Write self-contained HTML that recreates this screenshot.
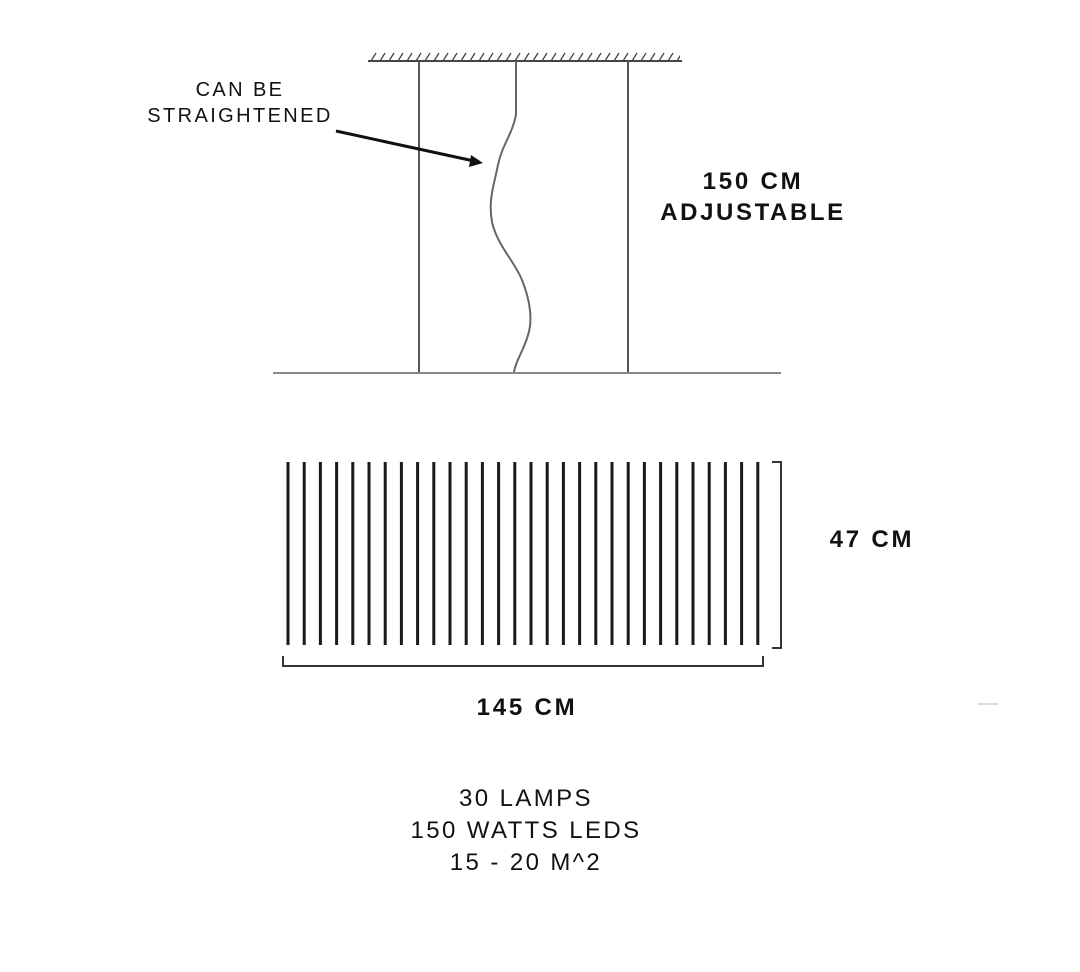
<!DOCTYPE html>
<html><head><meta charset="utf-8"><style>
html,body{margin:0;padding:0;background:#fff;}
svg{display:block;}
text{font-family:"Liberation Sans",sans-serif;fill:#111;}
</style></head><body>
<svg width="1080" height="972" viewBox="0 0 1080 972" xmlns="http://www.w3.org/2000/svg">
<defs>
<pattern id="h" x="370" y="52" width="9" height="9" patternUnits="userSpaceOnUse">
<line x1="1" y1="9" x2="6" y2="1" stroke="#444" stroke-width="1.3"/>
</pattern>
</defs>
<rect x="370" y="52" width="310" height="8" fill="url(#h)"/>
<line x1="368" y1="61" x2="682" y2="61" stroke="#444" stroke-width="2"/>
<line x1="419" y1="61" x2="419" y2="373" stroke="#555" stroke-width="2"/>
<line x1="628" y1="61" x2="628" y2="373" stroke="#555" stroke-width="2"/>
<path d="M516 61 L516 115 C512 135 502 145 498 165 C494 185 488 200 492 222 C497 245 515 262 522 280 C530 300 533 320 528 335 C524 350 516 360 514 372" fill="none" stroke="#666" stroke-width="2"/>
<line x1="273" y1="373" x2="781" y2="373" stroke="#888" stroke-width="2"/>
<line x1="336" y1="131" x2="474" y2="161" stroke="#111" stroke-width="3"/>
<polygon points="483,163 471,155 469,167" fill="#111"/>
<text x="240" y="96" font-size="20" text-anchor="middle" letter-spacing="2.4">CAN BE</text>
<text x="240" y="122" font-size="20" text-anchor="middle" letter-spacing="2.4">STRAIGHTENED</text>
<text x="753" y="189" font-size="24" font-weight="bold" text-anchor="middle" letter-spacing="2.8">150 CM</text>
<text x="753" y="220" font-size="24" font-weight="bold" text-anchor="middle" letter-spacing="2.6">ADJUSTABLE</text>
<g stroke="#1a1a1a" stroke-width="3">
<line x1="288" y1="462" x2="288" y2="645"/><line x1="304.2" y1="462" x2="304.2" y2="645"/><line x1="320.4" y1="462" x2="320.4" y2="645"/><line x1="336.6" y1="462" x2="336.6" y2="645"/><line x1="352.8" y1="462" x2="352.8" y2="645"/><line x1="369" y1="462" x2="369" y2="645"/><line x1="385.2" y1="462" x2="385.2" y2="645"/><line x1="401.4" y1="462" x2="401.4" y2="645"/><line x1="417.6" y1="462" x2="417.6" y2="645"/><line x1="433.8" y1="462" x2="433.8" y2="645"/><line x1="450" y1="462" x2="450" y2="645"/><line x1="466.2" y1="462" x2="466.2" y2="645"/><line x1="482.4" y1="462" x2="482.4" y2="645"/><line x1="498.6" y1="462" x2="498.6" y2="645"/><line x1="514.8" y1="462" x2="514.8" y2="645"/><line x1="531" y1="462" x2="531" y2="645"/><line x1="547.2" y1="462" x2="547.2" y2="645"/><line x1="563.4" y1="462" x2="563.4" y2="645"/><line x1="579.6" y1="462" x2="579.6" y2="645"/><line x1="595.8" y1="462" x2="595.8" y2="645"/><line x1="612" y1="462" x2="612" y2="645"/><line x1="628.2" y1="462" x2="628.2" y2="645"/><line x1="644.4" y1="462" x2="644.4" y2="645"/><line x1="660.6" y1="462" x2="660.6" y2="645"/><line x1="676.8" y1="462" x2="676.8" y2="645"/><line x1="693" y1="462" x2="693" y2="645"/><line x1="709.2" y1="462" x2="709.2" y2="645"/><line x1="725.4" y1="462" x2="725.4" y2="645"/><line x1="741.6" y1="462" x2="741.6" y2="645"/><line x1="757.8" y1="462" x2="757.8" y2="645"/>
</g>
<polyline points="772,462 781,462 781,648 772,648" fill="none" stroke="#333" stroke-width="2"/>
<polyline points="283,656 283,666 763,666 763,656" fill="none" stroke="#333" stroke-width="2"/>
<text x="872" y="547" font-size="24" font-weight="bold" text-anchor="middle" letter-spacing="2.8">47 CM</text>
<text x="527" y="715" font-size="24" font-weight="bold" text-anchor="middle" letter-spacing="2.8">145 CM</text>
<line x1="978" y1="704" x2="998" y2="704" stroke="#ddd" stroke-width="2"/>
<text x="526" y="806" font-size="24" text-anchor="middle" letter-spacing="2.4">30 LAMPS</text>
<text x="526" y="838" font-size="24" text-anchor="middle" letter-spacing="2.4">150 WATTS LEDS</text>
<text x="526" y="870" font-size="24" text-anchor="middle" letter-spacing="2.4">15 - 20 M^2</text>
</svg>
</body></html>
